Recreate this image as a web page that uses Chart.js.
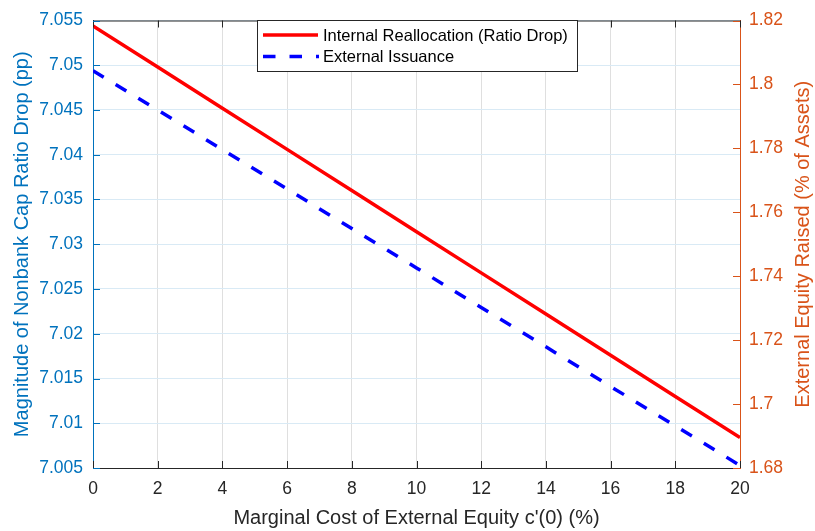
<!DOCTYPE html>
<html>
<head>
<meta charset="utf-8">
<script src="https://cdn.jsdelivr.net/npm/chart.js@4.4.1/dist/chart.umd.min.js"></script>
<style>
  html, body { margin: 0; padding: 0; background: #fff; }
</style>
</head>
<body>
<canvas id="chart" width="815" height="531"></canvas>
<script>
// --- Data ---
const costValues = [0, 2, 4, 6, 8, 10, 12, 14, 16, 18, 20];
const ratioDrop = [7.0544, 7.0498, 7.0452, 7.0406, 7.0360, 7.0314, 7.0268, 7.0222, 7.0176, 7.0130, 7.0084];
const equityRaised = [1.8043, 1.7920, 1.7796, 1.7673, 1.7549, 1.7426, 1.7302, 1.7179, 1.7055, 1.6932, 1.6808];

const xTicks = [0, 2, 4, 6, 8, 10, 12, 14, 16, 18, 20];
const leftTicks = [7.005, 7.01, 7.015, 7.02, 7.025, 7.03, 7.035, 7.04, 7.045, 7.05, 7.055];
const rightTicks = [1.68, 1.7, 1.72, 1.74, 1.76, 1.78, 1.8, 1.82];

// --- Styles ---
const FONT = '"Liberation Sans", Arial, Helvetica, sans-serif';
const LEFT_COLOR = '#0072BD';
const RIGHT_COLOR = '#D95319';
const AXIS_COLOR = '#262626';
const DASH = [12.5, 14];

const toPoints = (xs, ys) => xs.map((x, i) => ({ x: x, y: ys[i] }));
const fixedTicks = list => scale => { scale.ticks = list.map(v => ({ value: v })); };

// axis frame: top border plus inward tick marks on every side
const axesFrame = {
    id: 'axesFrame',
    afterDatasetsDraw(chart) {
        const { ctx, chartArea: a, scales } = chart;
        const len = 7;
        ctx.save();
        ctx.lineWidth = 1;

        ctx.strokeStyle = AXIS_COLOR;
        ctx.beginPath();
        ctx.moveTo(a.left, a.top + 0.5);
        ctx.lineTo(a.right, a.top + 0.5);
        xTicks.forEach(v => {
            const px = Math.round(scales.x.getPixelForValue(v)) + 0.5;
            ctx.moveTo(px, a.bottom); ctx.lineTo(px, a.bottom - len);
            ctx.moveTo(px, a.top); ctx.lineTo(px, a.top + len);
        });
        ctx.stroke();

        ctx.strokeStyle = LEFT_COLOR;
        ctx.beginPath();
        leftTicks.forEach(v => {
            const py = Math.round(scales.y.getPixelForValue(v)) + 0.5;
            ctx.moveTo(a.left, py); ctx.lineTo(a.left + len, py);
        });
        ctx.stroke();

        ctx.strokeStyle = RIGHT_COLOR;
        ctx.beginPath();
        rightTicks.forEach(v => {
            const py = Math.round(scales.y1.getPixelForValue(v)) + 0.5;
            ctx.moveTo(a.right, py); ctx.lineTo(a.right - len, py);
        });
        ctx.stroke();
        ctx.restore();
    }
};

// right axis title, reading bottom to top like the left one
const rightTitle = {
    id: 'rightTitle',
    afterDraw(chart) {
        const s = chart.scales.y1;
        const { ctx } = chart;
        ctx.save();
        ctx.translate(s.right - 12, (s.top + s.bottom) / 2);
        ctx.rotate(-Math.PI / 2);
        ctx.font = '20px ' + FONT;
        ctx.fillStyle = RIGHT_COLOR;
        ctx.textAlign = 'center';
        ctx.textBaseline = 'middle';
        ctx.fillText('External Equity Raised (% of Assets)', 0, 0);
        ctx.restore();
    }
};

// boxed legend in the upper middle of the plot
const boxLegend = {
    id: 'boxLegend',
    afterDraw(chart) {
        const { ctx } = chart;
        const box = { x: 257, y: 20, w: 320, h: 51 };
        const rows = [35, 56.5];
        ctx.save();
        ctx.fillStyle = '#fff';
        ctx.fillRect(box.x, box.y, box.w, box.h);
        ctx.strokeStyle = AXIS_COLOR;
        ctx.lineWidth = 1;
        ctx.strokeRect(box.x + 0.5, box.y + 0.5, box.w, box.h);
        chart.data.datasets.forEach((ds, i) => {
            const y = rows[i];
            ctx.strokeStyle = ds.borderColor;
            ctx.lineWidth = ds.borderWidth;
            ctx.setLineDash(ds.borderDash || []);
            ctx.beginPath();
            ctx.moveTo(263, y);
            ctx.lineTo(ds.borderDash ? 319 : 318, y);
            ctx.stroke();
            ctx.setLineDash([]);
            ctx.font = '16.5px ' + FONT;
            ctx.fillStyle = '#000';
            ctx.textAlign = 'left';
            ctx.textBaseline = 'middle';
            ctx.fillText(ds.label, 323, y + 1);
        });
        ctx.restore();
    }
};

new Chart(document.getElementById('chart').getContext('2d'), {
    type: 'line',
    data: {
        datasets: [
            {
                label: 'Internal Reallocation (Ratio Drop)',
                data: toPoints(costValues, ratioDrop),
                yAxisID: 'y',
                borderColor: '#FF0000',
                borderWidth: 3.5,
                pointRadius: 0,
                tension: 0
            },
            {
                label: 'External Issuance',
                data: toPoints(costValues, equityRaised),
                yAxisID: 'y1',
                borderColor: '#0000FF',
                borderWidth: 3.5,
                borderDash: DASH,
                borderCapStyle: 'butt',
                pointRadius: 0,
                tension: 0
            }
        ]
    },
    options: {
        responsive: false,
        devicePixelRatio: 1,
        animation: false,
        layout: { padding: { top: 12, left: 0, right: 0, bottom: 0 } },
        plugins: { legend: { display: false }, tooltip: { enabled: false } },
        scales: {
            x: {
                type: 'linear',
                min: 0, max: 20,
                afterBuildTicks: fixedTicks(xTicks),
                afterFit: s => { s.height = 63; },
                grid: { color: 'rgb(223,223,223)', drawTicks: false, lineWidth: 1 },
                border: { color: AXIS_COLOR, width: 1 },
                ticks: {
                    padding: 11,
                    color: AXIS_COLOR,
                    font: { family: FONT, size: 17.5 },
                    maxRotation: 0,
                    callback: v => String(v)
                },
                title: {
                    display: true,
                    text: "Marginal Cost of External Equity c'(0) (%)",
                    color: AXIS_COLOR,
                    font: { family: FONT, size: 20 },
                    padding: { top: 0, bottom: 1 }
                }
            },
            y: {
                type: 'linear',
                position: 'left',
                min: 7.005, max: 7.055,
                afterBuildTicks: fixedTicks(leftTicks),
                afterFit: s => { s.width = 93; },
                grid: { color: 'rgb(217,234,245)', drawTicks: false, lineWidth: 1 },
                border: { color: LEFT_COLOR, width: 1 },
                ticks: {
                    padding: 10,
                    color: LEFT_COLOR,
                    font: { family: FONT, size: 17.5 },
                    callback: v => String(+v.toFixed(3))
                },
                title: {
                    display: true,
                    text: 'Magnitude of Nonbank Cap Ratio Drop (pp)',
                    color: LEFT_COLOR,
                    font: { family: FONT, size: 20 },
                    padding: { top: 10, bottom: 0 }
                }
            },
            y1: {
                type: 'linear',
                position: 'right',
                min: 1.68, max: 1.82,
                afterBuildTicks: fixedTicks(rightTicks),
                afterFit: s => { s.width = 75; },
                grid: { display: false, drawTicks: false },
                border: { color: RIGHT_COLOR, width: 1 },
                ticks: {
                    padding: 9,
                    color: RIGHT_COLOR,
                    font: { family: FONT, size: 17.5 },
                    callback: v => String(+v.toFixed(2))
                },
                title: { display: false }
            }
        }
    },
    plugins: [axesFrame, rightTitle, boxLegend]
});
</script>
</body>
</html>
